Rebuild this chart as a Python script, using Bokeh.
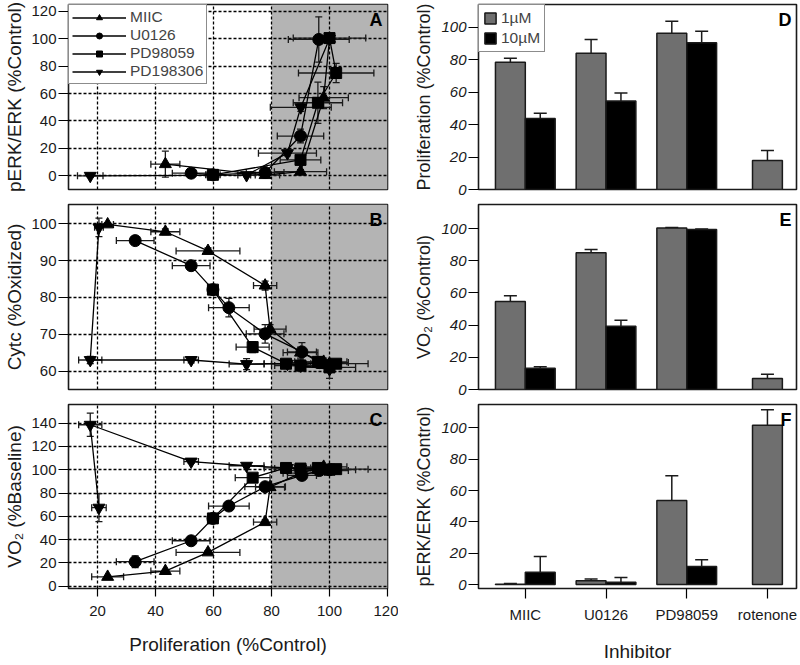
from bokeh.plotting import figure
from bokeh.layouts import gridplot
from bokeh.models import (ColumnDataSource, Whisker, TeeHead, BoxAnnotation, Label,
                          Legend, LegendItem, FixedTicker, Range1d)
from bokeh.embed import file_html
from bokeh.resources import INLINE

FONT = "Liberation Sans"

# ---------------- Panel A: pERK/ERK vs proliferation ----------------
A_MIIC_x = [43.4, 77.8, 90.0, 98.0, 100.0]
A_MIIC_y = [8.5, 0.5, 3.0, 57.0, 100.0]
A_MIIC_xerr = [5.0, 5.0, 9.0, 8.5, 0.0]
A_MIIC_yerr = [9.5, 0.5, 1.5, 8.0, 0.0]

A_U0126_x = [52.3, 59.8, 77.8, 90.0, 96.3]
A_U0126_y = [1.9, 0.7, 2.4, 29.0, 99.5]
A_U0126_xerr = [6.5, 2.0, 6.5, 8.0, 10.5]
A_U0126_yerr = [1.0, 1.0, 1.0, 5.0, 16.5]

A_PD98059_x = [59.8, 90.0, 96.0, 102.3, 100.0]
A_PD98059_y = [0.7, 11.6, 53.3, 75.0, 100.5]
A_PD98059_xerr = [2.5, 7.0, 8.5, 13.0, 12.5]
A_PD98059_yerr = [1.0, 2.0, 15.0, 7.0, 1.0]

A_PD198306_x = [17.5, 71.4, 85.5, 90.1, 100.0]
A_PD198306_y = [0.0, 0.5, 16.5, 50.0, 100.0]
A_PD198306_xerr = [4.4, 3.0, 10.0, 10.5, 0.0]
A_PD198306_yerr = [1.0, 1.0, 2.0, 3.0, 0.0]

# ---------------- Panel B: Cytc vs proliferation ----------------
B_MIIC_x = [23.5, 43.4, 58.1, 77.8, 79.5, 90.0, 98.0, 100.0]
B_MIIC_y = [99.8, 97.8, 92.6, 83.2, 71.4, 65.0, 62.5, 62.0]
B_MIIC_xerr = [2.0, 5.0, 11.0, 4.0, 5.5, 6.0, 8.0, 0.0]
B_MIIC_yerr = [0.5, 0.8, 0.8, 1.2, 1.2, 1.5, 1.0, 0.0]

B_U0126_x = [33.0, 52.3, 59.8, 65.3, 77.8, 90.5, 96.5, 100.0]
B_U0126_y = [95.4, 88.6, 82.1, 77.2, 70.1, 65.2, 62.3, 61.5]
B_U0126_xerr = [6.5, 6.5, 1.5, 7.0, 6.5, 5.0, 10.0, 0.0]
B_U0126_yerr = [0.5, 1.0, 0.8, 2.5, 2.5, 2.5, 1.5, 0.0]

B_PD98059_x = [59.8, 73.5, 85.0, 90.0, 96.0, 102.3, 100.0]
B_PD98059_y = [82.1, 66.5, 62.0, 61.5, 62.5, 62.0, 61.0]
B_PD98059_xerr = [1.5, 5.7, 5.0, 6.0, 8.0, 11.0, 9.0]
B_PD98059_yerr = [0.8, 1.5, 1.0, 1.0, 1.0, 1.0, 1.0]

B_PD198306_x = [20.5, 17.5, 52.3, 71.4, 85.5, 90.1, 100.0]
B_PD198306_y = [99.0, 63.0, 63.0, 61.9, 62.0, 61.5, 60.5]
B_PD198306_xerr = [1.5, 4.0, 2.5, 6.0, 8.0, 9.0, 0.0]
B_PD198306_yerr = [2.5, 1.0, 0.8, 1.5, 1.0, 1.5, 2.5]

# ---------------- Panel C: VO2 vs proliferation ----------------
C_MIIC_x = [23.5, 43.4, 58.1, 77.8, 79.5, 90.0, 98.0, 100.0]
C_MIIC_y = [8.0, 13.0, 29.0, 55.0, 85.0, 97.0, 102.5, 100.0]
C_MIIC_xerr = [5.5, 5.0, 11.0, 4.0, 5.0, 6.0, 8.0, 0.0]
C_MIIC_yerr = [1.0, 1.0, 1.5, 2.0, 2.0, 1.5, 1.5, 0.0]

C_U0126_x = [33.0, 52.3, 59.8, 65.3, 77.8, 90.5, 96.5, 100.0]
C_U0126_y = [21.0, 39.0, 58.2, 68.8, 85.4, 95.1, 99.3, 100.0]
C_U0126_xerr = [6.5, 6.5, 1.5, 7.0, 7.0, 5.0, 10.0, 0.0]
C_U0126_yerr = [5.0, 2.0, 2.0, 2.0, 1.5, 2.0, 1.0, 0.0]

C_PD98059_x = [59.8, 73.5, 85.0, 90.0, 96.0, 102.3, 100.0]
C_PD98059_y = [58.2, 93.2, 101.5, 101.0, 101.5, 100.5, 100.0]
C_PD98059_xerr = [1.5, 6.0, 5.0, 6.0, 8.0, 11.0, 9.0]
C_PD98059_yerr = [1.0, 1.0, 1.0, 1.0, 1.0, 1.0, 1.0]

C_PD198306_x = [20.5, 17.5, 52.3, 71.4, 85.5, 90.1, 100.0]
C_PD198306_y = [67.4, 138.6, 107.0, 103.4, 101.5, 101.0, 100.0]
C_PD198306_xerr = [2.5, 4.0, 2.5, 6.0, 8.0, 9.0, 0.0]
C_PD198306_yerr = [12.0, 10.0, 1.5, 1.5, 1.5, 1.5, 0.0]

# ---------------- Bar panels D, E, F ----------------
inhibitors = ["MIIC", "U0126", "PD98059", "rotenone"]
dose_labels = ["1\u00b5M", "10\u00b5M"]

D_1uM = [78.4, 83.9, 96.3, 17.9]
D_1uM_err = [2.5, 8.5, 7.4, 6.2]
D_10uM = [43.7, 54.6, 90.5]
D_10uM_err = [3.3, 4.8, 7.0]

E_1uM = [54.7, 85.0, 100.4, 6.9]
E_1uM_err = [3.5, 2.1, 0.3, 2.6]
E_10uM = [13.2, 39.3, 99.4]
E_10uM_err = [1.0, 3.7, 0.3]

F_1uM = [0.2, 2.5, 53.7, 101.7]
F_1uM_err = [0.5, 1.1, 15.8, 9.9]
F_10uM = [7.8, 1.5, 11.6]
F_10uM_err = [10.1, 3.1, 4.2]

GRAY_BAR = "#6f6f6f"
SHADE = "#b4b4b4"
INK = "#1a1a1a"

LEFT_W, RIGHT_W = 398, 400
ROW_H = [196, 200, 268]
TOPS = [4, 8, 8]
BOTS = [7, 7, 76]


def style_common(p):
    p.outline_line_color = INK
    p.outline_line_width = 1.6
    p.background_fill_color = "white"
    p.border_fill_color = "white"
    for ax in p.axis:
        ax.axis_line_color = None
        ax.major_tick_line_color = "black"
        ax.major_tick_line_width = 1.2
        ax.major_tick_out = 10
        ax.major_tick_in = 0
        ax.minor_tick_line_color = None
        ax.major_label_text_font = FONT
        ax.major_label_text_font_size = "15px"
        ax.major_label_text_color = INK
        ax.major_label_standoff = 2
        ax.axis_label_text_font = FONT
        ax.axis_label_text_font_size = "19px"
        ax.axis_label_text_font_style = "normal"
        ax.axis_label_text_color = INK


def scatter_fig(row, ylabel, yr, yticks, letter, series, show_x, legend=False):
    p = figure(width=LEFT_W, height=ROW_H[row], output_backend="svg", toolbar_location=None,
               x_range=Range1d(10, 120), y_range=Range1d(*yr),
               min_border_left=68, min_border_right=11,
               min_border_top=TOPS[row], min_border_bottom=BOTS[row])
    style_common(p)
    p.add_layout(BoxAnnotation(left=80, fill_color=SHADE, fill_alpha=1.0, line_alpha=0,
                               level="image"))
    p.xaxis.ticker = FixedTicker(ticks=[20, 40, 60, 80, 100, 120])
    p.yaxis.ticker = FixedTicker(ticks=yticks)
    for g in p.grid:
        g.grid_line_color = "black"
        g.grid_line_dash = "3 2"
        g.grid_line_width = 1.3
    p.yaxis.axis_label = ylabel
    p.yaxis.axis_label_standoff = 3
    if show_x:
        p.xaxis.axis_label = "Proliferation (%Control)"
        p.xaxis.axis_label_standoff = 15
        p.xaxis.major_tick_out = 8
        p.xaxis.major_label_standoff = 9
    else:
        p.xaxis.visible = False

    items = []
    for name, marker, size, x, y, xe, ye in series:
        src = ColumnDataSource(dict(
            x=x, y=y,
            xl=[a - e for a, e in zip(x, xe)], xu=[a + e for a, e in zip(x, xe)],
            yl=[a - e for a, e in zip(y, ye)], yu=[a + e for a, e in zip(y, ye)]))
        p.add_layout(Whisker(source=src, base="y", lower="xl", upper="xu", dimension="width",
                             line_color=INK, line_width=1.3,
                             upper_head=TeeHead(size=7, line_width=1.3, line_color=INK),
                             lower_head=TeeHead(size=7, line_width=1.3, line_color=INK)))
        p.add_layout(Whisker(source=src, base="x", lower="yl", upper="yu", dimension="height",
                             line_color=INK, line_width=1.3,
                             upper_head=TeeHead(size=7, line_width=1.3, line_color=INK),
                             lower_head=TeeHead(size=7, line_width=1.3, line_color=INK)))
        lr = p.line("x", "y", source=src, line_color="black", line_width=1.3)
        sr = p.scatter("x", "y", source=src, marker=marker, size=size,
                       fill_color="black", line_color="black")
        items.append(LegendItem(label=name, renderers=[lr, sr]))

    p.add_layout(Label(x=120, y=yr[1], text=letter, text_font=FONT, text_color="black",
                       text_font_style="bold", text_font_size="18px",
                       text_align="right", text_baseline="top", x_offset=-5, y_offset=-5))
    if legend:
        lg = Legend(items=items, location="top_left", border_line_color=INK,
                    border_line_width=1.5, background_fill_alpha=1.0, glyph_width=54,
                    glyph_height=15, label_height=15, label_text_font=FONT,
                    label_text_font_size="15.5px", label_standoff=4, spacing=0,
                    padding=3, margin=0)
        p.add_layout(lg)
    return p


def series_list(prefix, d):
    return [
        ("MIIC", "triangle", 12, d[prefix + "_MIIC_x"], d[prefix + "_MIIC_y"],
         d[prefix + "_MIIC_xerr"], d[prefix + "_MIIC_yerr"]),
        ("U0126", "circle", 12, d[prefix + "_U0126_x"], d[prefix + "_U0126_y"],
         d[prefix + "_U0126_xerr"], d[prefix + "_U0126_yerr"]),
        ("PD98059", "square", 11, d[prefix + "_PD98059_x"], d[prefix + "_PD98059_y"],
         d[prefix + "_PD98059_xerr"], d[prefix + "_PD98059_yerr"]),
        ("PD198306", "inverted_triangle", 12, d[prefix + "_PD198306_x"], d[prefix + "_PD198306_y"],
         d[prefix + "_PD198306_xerr"], d[prefix + "_PD198306_yerr"]),
    ]


G = globals()
pa = scatter_fig(0, "pERK/ERK (%Control)", (-10, 125), [0, 20, 40, 60, 80, 100, 120], "A",
                 series_list("A", G), False, legend=True)
pb = scatter_fig(1, "Cytc (%Oxidized)", (55, 105.2), [60, 70, 80, 90, 100], "B",
                 series_list("B", G), False)
pc = scatter_fig(2, "VO\u2082 (%Baseline)", (-2, 156), [0, 20, 40, 60, 80, 100, 120, 140], "C",
                 series_list("C", G), True)

BAR_W = 0.37
OFF = 0.185


def bar_fig(row, ylabel, yr, letter, v1, e1, v10, e10, show_x, legend=False):
    p = figure(width=RIGHT_W, height=ROW_H[row], output_backend="svg", toolbar_location=None,
               x_range=Range1d(0.42, 4.36), y_range=Range1d(*yr),
               min_border_left=80, min_border_right=2,
               min_border_top=TOPS[row], min_border_bottom=BOTS[row])
    style_common(p)
    p.grid.visible = False
    p.yaxis.ticker = FixedTicker(ticks=[0, 20, 40, 60, 80, 100])
    p.yaxis.major_label_text_font_style = "italic"
    p.yaxis.axis_label = ylabel
    p.yaxis.axis_label_text_font_size = "18px"
    p.yaxis.axis_label_standoff = 4
    p.xaxis.ticker = FixedTicker(ticks=[1, 2, 3, 4])
    p.xaxis.major_label_overrides = {i + 1: n for i, n in enumerate(inhibitors)}
    if show_x:
        p.xaxis.axis_label = "Inhibitor"
        p.xaxis.axis_label_standoff = 15
        p.xaxis.major_tick_out = 10
        p.xaxis.major_label_standoff = 7
    else:
        p.xaxis.visible = False

    n10 = len(v10)
    x1 = [i + 1 - OFF if i < n10 else i + 1 for i in range(len(v1))]
    x10 = [i + 1 + OFF for i in range(n10)]
    s1 = ColumnDataSource(dict(x=x1, top=v1, up=[a + b for a, b in zip(v1, e1)]))
    s10 = ColumnDataSource(dict(x=x10, top=v10, up=[a + b for a, b in zip(v10, e10)]))
    for s in (s1, s10):
        p.add_layout(Whisker(source=s, base="x", lower="top", upper="up", dimension="height",
                             line_color=INK, line_width=1.5, lower_head=None,
                             upper_head=TeeHead(size=13, line_width=1.5, line_color=INK)))
    r1 = p.vbar(x="x", top="top", width=BAR_W, source=s1, fill_color=GRAY_BAR,
                line_color=INK, line_width=1.5)
    r10 = p.vbar(x="x", top="top", width=BAR_W, source=s10, fill_color="black",
                 line_color=INK, line_width=1.5)
    p.add_layout(Label(x=4.36, y=yr[1], text=letter, text_font=FONT, text_color="black",
                       text_font_style="bold", text_font_size="18px",
                       text_align="right", text_baseline="top", x_offset=-5, y_offset=-5))
    if legend:
        lg = Legend(items=[LegendItem(label=dose_labels[0], renderers=[r1]),
                           LegendItem(label=dose_labels[1], renderers=[r10])],
                    location="top_left", border_line_color=INK, border_line_width=1.5,
                    background_fill_alpha=1.0, glyph_width=14, glyph_height=14,
                    label_height=15, label_text_font=FONT, label_text_font_size="15.5px",
                    label_standoff=4, spacing=2, padding=4, margin=0)
        p.add_layout(lg)
    return p


pd_ = bar_fig(0, "Proliferation (%Control)", (0, 114), "D", D_1uM, D_1uM_err, D_10uM, D_10uM_err,
              False, legend=True)
pe = bar_fig(1, "VO\u2082 (%Control)", (0, 115), "E", E_1uM, E_1uM_err, E_10uM, E_10uM_err, False)
pf = bar_fig(2, "pERK/ERK (%Control)", (-2.5, 115), "F", F_1uM, F_1uM_err, F_10uM, F_10uM_err, True)

grid = gridplot([[pa, pd_], [pb, pe], [pc, pf]], toolbar_location=None)

open("out.html", "w").write(file_html(grid, INLINE))
